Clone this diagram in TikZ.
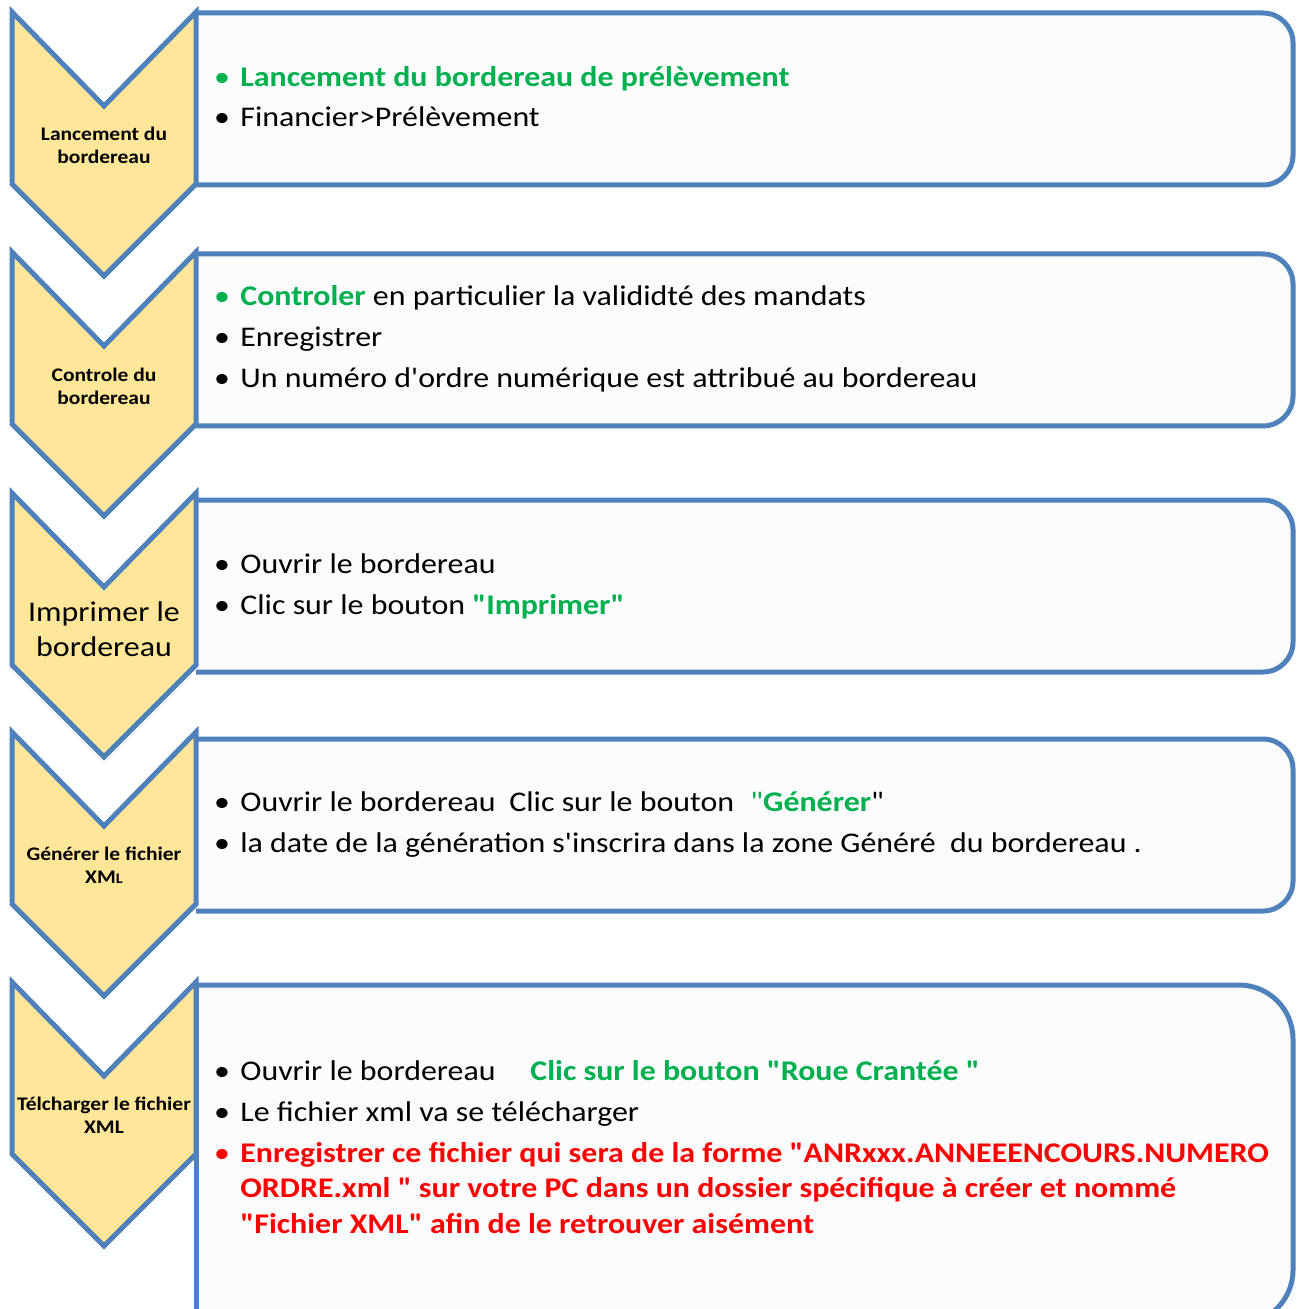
\documentclass[tikz,border=0pt]{standalone}
\usepackage{fontspec}
\newfontfamily\calib{Carlito}[FakeStretch=1.12]
\definecolor{chevfill}{RGB}{255,230,153}
\definecolor{edgeblue}{RGB}{79,129,189}
\definecolor{okgreen}{RGB}{0,176,80}
\definecolor{errred}{RGB}{255,0,0}
\tikzset{
  chev/.style={draw=edgeblue, fill=chevfill, line width=2.5pt, line join=miter},
  stepbox/.style={draw=edgeblue, fill=white!99!black, line width=2.5pt},
  boxedge/.style={draw=edgeblue, line width=2.5pt},
  body/.style={anchor=base west, inner sep=0pt, font=\calib\fontsize{14.25}{17}\selectfont},
  bul/.style={anchor=base, inner sep=0pt, font=\calib\fontsize{14.25}{17}\selectfont},
  chevlab/.style={align=center, inner sep=0pt, font=\calib\bfseries\fontsize{9.6}{11.5}\selectfont}
}
\begin{document}
\begin{tikzpicture}[x=0.5pt,y=-0.5pt]
\useasboundingbox (0,0) rectangle (1298,1309);
\clip (0,0) rectangle (1298,1309);
% boxes
\draw[stepbox, rounded corners=15pt] (196,13) -- (1293,13) -- (1293,185) -- (196,185);
\draw[stepbox, rounded corners=15pt] (196,254) -- (1293,254) -- (1293,426) -- (196,426);
\draw[stepbox, rounded corners=15pt] (196,500) -- (1293,500) -- (1293,672) -- (196,672);
\draw[stepbox, rounded corners=15pt] (196,739) -- (1293,739) -- (1293,911) -- (196,911);
\draw[stepbox, rounded corners=27pt] (196,985) -- (1293,985) -- (1293,1324) -- (196,1324);
\draw[boxedge] (196,985) -- (196,1324);
% chevrons
\foreach \t in {12,252,493,732,982}
  \draw[chev] (12,\t) -- (104,\t+94) -- (196,\t) -- (196,\t+172) -- (104,\t+264) -- (12,\t+172) -- cycle;
\node[chevlab] (lab1) at (104,145) {Lancement du\\bordereau};
\node[chevlab] (lab2) at (104,386) {Controle du\\bordereau};
\node[chevlab, font=\calib\fontsize{14.25}{17.5}\selectfont] (lab3) at (104,629) {Imprimer le\\bordereau};
\node[chevlab] (lab4) at (104,865) {Générer le fichier\\XM{\fontsize{7.3}{8}\selectfont L}};
\node[chevlab] (lab5) at (104,1115) {Télcharger le fichier\\XML};
% box 1
\node[bul, okgreen] (p11) at (222,87) {•};
\node[body, okgreen, font=\calib\bfseries\fontsize{14.25}{17}\selectfont] (l11) at (240,87) {Lancement du bordereau de prélèvement};
\node[bul] (p12) at (222,127) {•};
\node[body] (l12) at (240,127) {Financier>Prélèvement};
% box 2
\node[bul, okgreen] (p21) at (222,306) {•};
\node[body] (l21) at (240,306) {\textcolor{okgreen}{\bfseries Controler} en particulier la valididté des mandats};
\node[bul] (p22) at (222,347) {•};
\node[body] (l22) at (240,347) {Enregistrer};
\node[bul] (p23) at (222,388) {•};
\node[body] (l23) at (240,388) {Un numéro d'ordre numérique est attribué au bordereau};
% box 3
\node[bul] (p31) at (222,573) {•};
\node[body] (l31) at (240,573) {Ouvrir le bordereau};
\node[bul] (p32) at (222,614) {•};
\node[body] (l32) at (240,614) {Clic sur le bouton \textcolor{okgreen}{\bfseries "Imprimer"}};
% box 4
\node[bul] (p41) at (222,811) {•};
\node[body] (l41) at (240,811) {Ouvrir le bordereau};
\node[body] (l41b) at (509,811) {Clic sur le bouton};
\node[body] (l41c) at (750,811) {\textcolor{okgreen}{"\bfseries Générer}"};
\node[bul] (p42) at (222,852) {•};
\node[body] (l42) at (240,852) {la date de la génération s'inscrira dans la zone Généré\ \ du bordereau .};
% box 5
\node[bul] (p51) at (222,1080) {•};
\node[body] (l51) at (240,1080) {Ouvrir le bordereau};
\node[body, okgreen, font=\calib\bfseries\fontsize{14.25}{17}\selectfont] (l51b) at (530,1080) {Clic sur le bouton "Roue Crantée "};
\node[bul] (p52) at (222,1121) {•};
\node[body] (l52) at (240,1121) {Le fichier xml va se télécharger};
\node[bul, errred] (p53) at (222,1162) {•};
\node[body, errred, font=\calib\bfseries\fontsize{14.25}{17}\selectfont] (l53) at (240,1162) {Enregistrer ce fichier qui sera de la forme "ANRxxx.ANNEEENCOURS.NUMERO};
\node[body, errred, font=\calib\bfseries\fontsize{14.25}{17}\selectfont] (l54) at (240,1197) {ORDRE.xml " sur votre PC dans un dossier spécifique à créer et nommé};
\node[body, errred, font=\calib\bfseries\fontsize{14.25}{17}\selectfont] (l55) at (240,1233) {"Fichier XML" afin de le retrouver aisément};
\end{tikzpicture}
\end{document}
